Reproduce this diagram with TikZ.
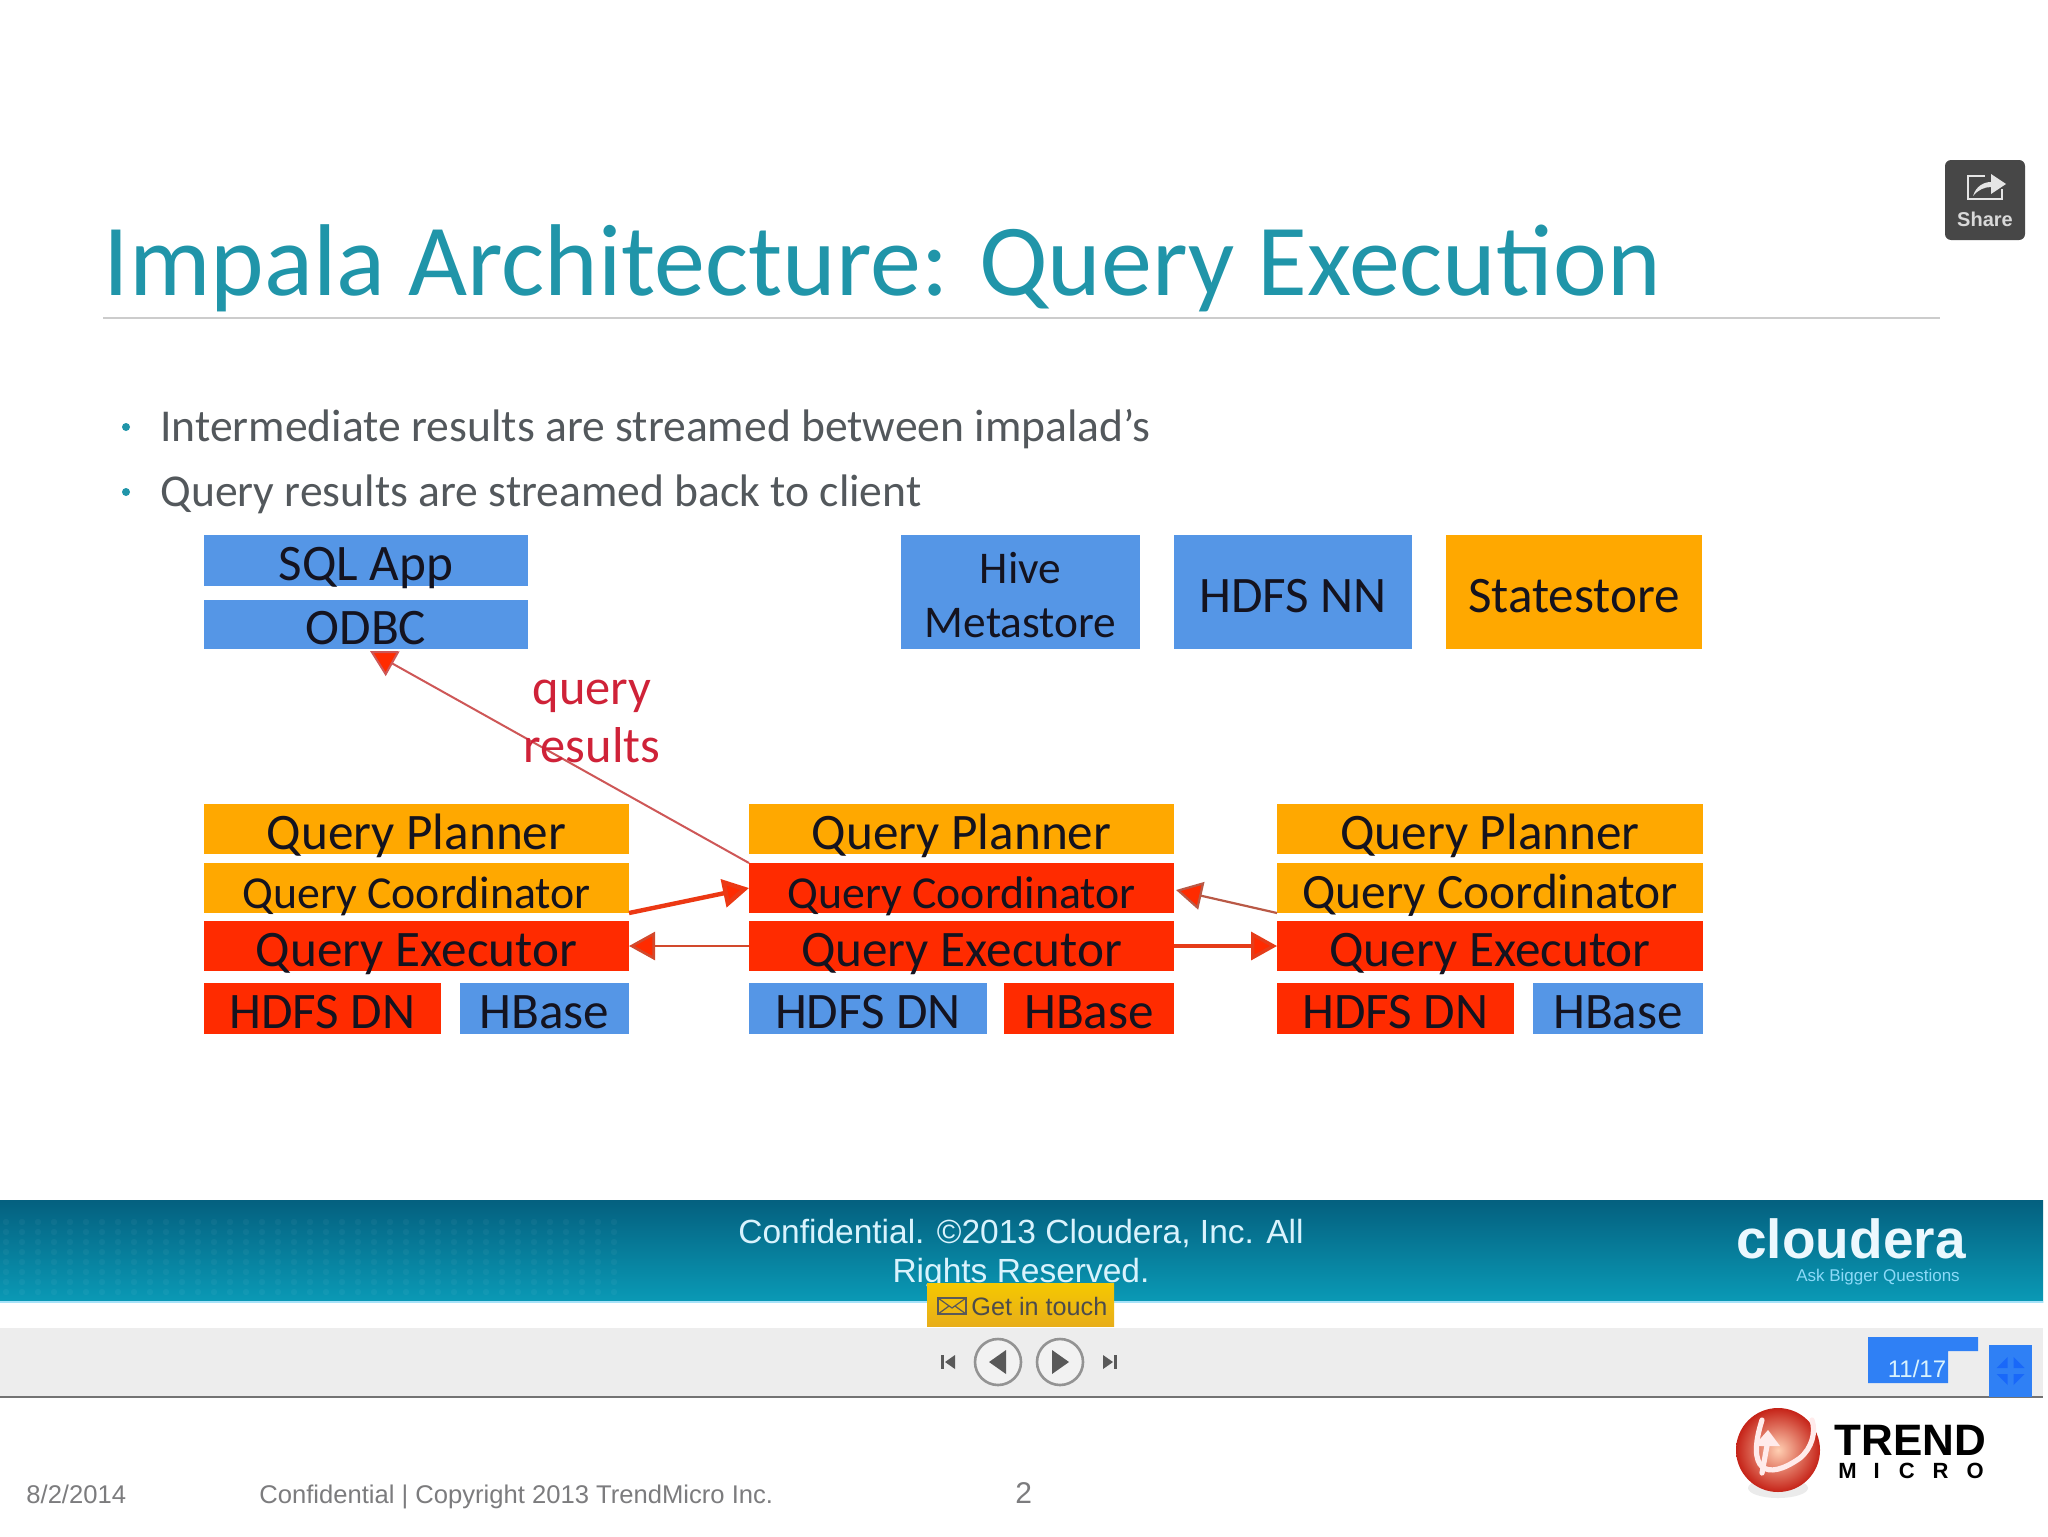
\documentclass[tikz,border=0pt]{standalone}
\usepackage{fontspec}
\setmainfont{Carlito}
\newfontfamily\arialf{Liberation Sans}
\usetikzlibrary{arrows.meta,calc}
\definecolor{cblue}{HTML}{5596E6}
\definecolor{corange}{HTML}{FFA800}
\definecolor{cred}{HTML}{FF2B00}
\definecolor{ink}{HTML}{14131F}
\definecolor{titleteal}{HTML}{2095A9}
\definecolor{bodygray}{HTML}{53585C}
\definecolor{footgray}{HTML}{7C7C7E}
\definecolor{barblue}{HTML}{2F80F5}
\definecolor{labelred}{HTML}{CF2238}
\definecolor{bantop}{HTML}{04607F}
\definecolor{banbot}{HTML}{0A9AB6}
\definecolor{logored}{HTML}{E8291C}
\definecolor{touchtop}{HTML}{F5C800}
\definecolor{touchbot}{HTML}{E8AE1A}
\newcommand\bx[7]{%
  \pgfmathsetmacro\cxx{(#3+#5)/2}\pgfmathsetmacro\cyy{(#4+#6)/2}%
  \pgfmathsetmacro\ww{(#5-#3)/2}\pgfmathsetmacro\hh{(#6-#4)/2}%
  \node[#2,minimum width=\ww pt,minimum height=\hh pt] (#1) at (\cxx,\cyy) {#7};}
\tikzset{
  x=0.5pt,y=-0.5pt,
  cell/.style={inner sep=0pt,outer sep=0pt,text=ink,align=center,font=\fontsize{25.6}{29}\selectfont,text height=20pt,text depth=0pt},
  blue box/.style={cell,fill=cblue},
  orange box/.style={cell,fill=corange},
  red box/.style={cell,fill=cred},
  link/.style={draw=#1,-{Triangle[length=13pt,width=14pt,fill=cred]},shorten >=0pt},
  foot/.style={inner sep=0pt,text=footgray,font=\arialf\fontsize{12.8}{16}\selectfont,anchor=base west},
  bullet/.style={circle,fill=titleteal,inner sep=0pt,minimum size=4pt},
  bodytext/.style={inner sep=0pt,anchor=base west,text=bodygray,font=\fontsize{22.8}{28}\selectfont},
  ctrl/.style={circle,draw=gray!85,line width=1.3pt,fill=black!5,minimum size=23pt,inner sep=0pt},
  ctrlmark/.style={fill=black!65,draw=none},
}
\begin{document}
\begin{tikzpicture}
\useasboundingbox (0,0) rectangle (2048,1536);
\fill[white] (0,0) rectangle (2048,1536);

% title
\node[inner sep=0pt,anchor=base west,text=titleteal,font=\fontsize{51}{60}\selectfont] (title) at (103,295) {Impala Architecture: Query Execution};
\coordinate (ruleL) at (103,318); \coordinate (ruleR) at (1940,318);
\draw[gray!40,line width=1pt] (ruleL) -- (ruleR);

% share button
\node[fill=black!72,rounded corners=3pt,minimum width=40pt,minimum height=40pt,inner sep=0pt] (share) at (1985,200) {};
\node[inner sep=0pt,text=white!85!black,font=\arialf\bfseries\fontsize{10}{12}\selectfont] (sharetxt) at (1985,219) {Share};
\draw[white!90!black,line width=1.2pt] (2002,189) -- (2002,199) -- (1968,199) -- (1968,176) -- (1985,176);
\fill[white!90!black] (1973,196) .. controls (1976,186) and (1984,182) .. (1991,182) -- (1991,174) -- (2006,184) -- (1991,194) -- (1991,187) .. controls (1984,187) and (1978,190) .. (1973,196) -- cycle;

% bullets
\node[bullet] (b1) at (126,427) {};
\node[bodytext] (t1) at (160,441) {Intermediate results are streamed between impalad’s};
\node[bullet] (b2) at (126,492) {};
\node[bodytext] (t2) at (160,506) {Query results are streamed back to client};

% top row
\bx{sql}{blue box}{204}{535}{528}{586}{SQL App}
\bx{odbc}{blue box}{204}{600}{528}{649}{ODBC}
\bx{hive}{blue box,text height=45pt,text depth=0pt,font=\fontsize{22.7}{27}\selectfont}{901}{535}{1140}{649}{Hive\\Metastore}
\bx{nn}{blue box}{1174}{535}{1412}{649}{HDFS NN}
\bx{state}{orange box}{1446}{535}{1702}{649}{Statestore}

% left column
\bx{pa}{orange box}{204}{804}{629}{854}{Query Planner}
\bx{ca}{orange box,font=\fontsize{22.9}{26}\selectfont}{204}{863}{629}{913}{Query Coordinator}
\bx{ea}{red box}{204}{921}{629}{971}{Query Executor}
\bx{da}{red box}{204}{983}{441}{1034}{HDFS DN}
\bx{ha}{blue box}{460}{983}{629}{1034}{HBase}
% middle column
\bx{pb}{orange box}{749}{804}{1174}{854}{Query Planner}
\bx{cb}{red box,font=\fontsize{22.9}{26}\selectfont}{749}{863}{1174}{913}{Query Coordinator}
\bx{eb}{red box}{749}{921}{1174}{971}{Query Executor}
\bx{db}{blue box}{749}{983}{987}{1034}{HDFS DN}
\bx{hb}{red box}{1004}{983}{1174}{1034}{HBase}
% right column
\bx{pc}{orange box}{1277}{804}{1703}{854}{Query Planner}
\bx{cc}{orange box,font=\fontsize{24.7}{28}\selectfont}{1277}{863}{1703}{913}{Query Coordinator}
\bx{ec}{red box}{1277}{921}{1703}{971}{Query Executor}
\bx{dc}{red box}{1277}{983}{1514}{1034}{HDFS DN}
\bx{hc}{blue box}{1533}{983}{1703}{1034}{HBase}

% connectors
\draw[link=red!55!gray!85,line width=1pt] (cb.north west) -- ([xshift=2pt,yshift=-1pt]odbc.south);
\draw[link=cred!85!gray,line width=2.2pt] (ca.south east) -- (cb.west);
\draw[link=cred!65!gray,line width=1.3pt] (eb.west) -- (ea.east);
\draw[link=cred!80!gray,line width=1.7pt] (eb.east) -- (ec.west);
\draw[link=cred!45!gray,line width=1.1pt] (cc.south west) -- ([xshift=1pt,yshift=-1pt]cb.east);

% label
\node[inner sep=0pt,text=labelred,align=center,font=\fontsize{25.2}{29}\selectfont] (qr) at (592,721) {query\\results};

% banner
\shade[top color=bantop,bottom color=banbot] (0,1200) rectangle (2043,1302);
\foreach \i in {0,...,38}{\foreach \j in {0,...,7}{
  \fill[white,opacity=.04] ({6+\i*16},{1222+\j*10}) circle[radius=1.6pt];}}
\draw[cyan!35,line width=1pt] (0,1302) -- (2043,1302);
\node[inner sep=0pt,text=cyan!15,align=center,font=\arialf\fontsize{16.75}{19.6}\selectfont] (conf) at (1021,1254) {Confidential. ©2013 Cloudera, Inc. All\\Rights Reserved.};
\node[inner sep=0pt,text=white!92!cyan,anchor=base,font=\arialf\bfseries\fontsize{27.5}{30}\selectfont] (cloudera) at (1851,1258) {cloudera};
\node[inner sep=0pt,text=white!55!cyan,anchor=center,font=\arialf\fontsize{8.5}{9}\selectfont] (tag) at (1878,1277) {Ask Bigger Questions};

% player bar
\fill[black!7] (0,1328) rectangle (2043,1397);
\draw[black!55,line width=.9pt] (0,1397) -- (2043,1397);
\node[inner sep=0pt,minimum width=93.5pt,minimum height=21.5pt,top color=touchtop,bottom color=touchbot] (touch) at (1020.5,1304.5) {};
\node[inner sep=0pt,text=black!70,font=\arialf\fontsize{12.6}{16}\selectfont,anchor=west] (touchtxt) at (971,1306) {Get in touch};
\draw[black!65,line width=.7pt] (938,1298) rectangle (966,1314);
\draw[black!65,line width=.6pt] (938,1298) -- (952,1308) -- (966,1298) (938,1314) -- (949,1306) (966,1314) -- (955,1306);

\node[ctrl] (prev) at (998,1362) {};
\node[ctrl] (play) at (1060,1362) {};
\fill[ctrlmark] (1006,1350) -- (1006,1374) -- (989,1362) -- cycle;
\fill[ctrlmark] (1052,1350) -- (1052,1374) -- (1069,1362) -- cycle;
\fill[ctrlmark] (941,1355) rectangle (944,1369);
\fill[ctrlmark] (955,1355) -- (955,1369) -- (945,1362) -- cycle;
\fill[ctrlmark] (1103,1355) -- (1103,1369) -- (1113,1362) -- cycle;
\fill[ctrlmark] (1114,1355) rectangle (1117,1369);

\fill[barblue] (1868,1337) -- (1978,1337) -- (1978,1351) -- (1948,1351) -- (1948,1383) -- (1868,1383) -- cycle;
\node[inner sep=0pt,text=white!85!cyan,font=\arialf\fontsize{12}{14}\selectfont] (page) at (1917,1369) {11/17};
\fill[barblue] (1989,1345) rectangle (2032,1397);
\foreach \sx/\sy in {-1/-1,1/-1,-1/1,1/1}{
  \fill[blue!70!cyan,opacity=.45] ({2010.5+\sx*3},{1371+\sy*3}) -- ({2010.5+\sx*14},{1371+\sy*3}) -- ({2010.5+\sx*3},{1371+\sy*14}) -- cycle;}

% footer text
\node[foot] (date) at (26,1503) {8/2/2014};
\node[foot] (copy) at (259,1503) {Confidential | Copyright 2013 TrendMicro Inc.};
\node[foot,font=\arialf\fontsize{15}{16}\selectfont] (num) at (1015,1503) {2};

% trend micro logo
\fill[black!15,opacity=.5] (1778,1488) ellipse[x radius=30,y radius=10];
\shade[inner color=red!25!orange!30,outer color=logored!85!black,shading=radial] (1778,1450) ellipse[x radius=42,y radius=42];
\draw[white!92!red,line width=2.6pt,line cap=round] (1762,1420) .. controls (1746,1470) and (1766,1482) .. (1800,1458) .. controls (1812,1448) and (1816,1432) .. (1812,1420);
\draw[white!92!red,line width=2.6pt,line cap=round] (1762,1473) -- (1768,1440);
\fill[white!92!red] (1768,1430) -- (1780,1446) -- (1754,1446) -- cycle;
\node[inner sep=0pt,text=black,anchor=base west,font=\arialf\bfseries\fontsize{22}{24}\selectfont] (trend) at (1834,1455) {TREND};
\node[inner sep=0pt,text=black,anchor=base west,font=\arialf\bfseries\fontsize{11}{13}\selectfont] (micro) at (1838,1478) {M\hspace{8.5pt}I\hspace{9.5pt}C\hspace{9pt}R\hspace{9pt}O};
\end{tikzpicture}
\end{document}
